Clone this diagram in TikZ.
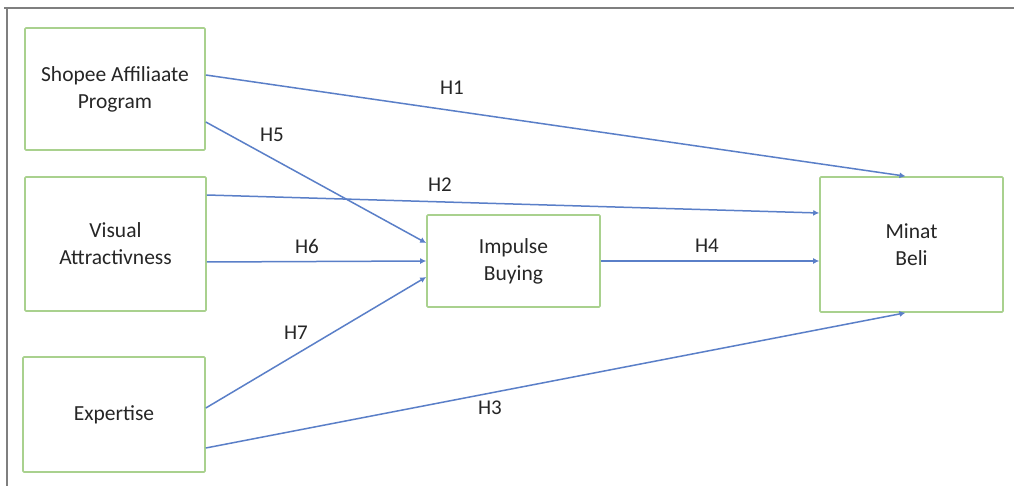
\documentclass[tikz,border=0pt]{standalone}
\usepackage{fontspec}
\setmainfont{Carlito}
\usetikzlibrary{arrows.meta}
\definecolor{boxgreen}{HTML}{A9D18E}
\definecolor{arrowblue}{HTML}{5A7FC8}
\definecolor{txt}{HTML}{262626}
\definecolor{framegray}{HTML}{7F7F7F}
\begin{document}
\begin{tikzpicture}[x=1pt,y=-1pt,
  varbox/.style={draw=boxgreen,line width=1.6pt,rounded corners=1pt,fill=white,
    minimum width=#1,align=center,text=txt,inner sep=0pt,
    font=\fontsize{21.5}{27}\selectfont},
  link/.style={draw=arrowblue,line width=1.5pt,-{Latex[length=6pt,width=6pt]}},
  hlab/.style={text=txt,font=\fontsize{21}{22}\selectfont,inner sep=0pt}]
\useasboundingbox (0,0) rectangle (1014,486);
\fill[white] (0,0) rectangle (1014,486);
% frame
\draw[framegray,line width=1.8pt] (4,8) -- (1014,8);
\draw[framegray,line width=1.8pt] (7,8) -- (7,486);
% boxes
\node[varbox=180pt,minimum height=122pt] (sap) at (115,89) {Shopee Affiliaate\\Program};
\node[varbox=181pt,minimum height=134pt] (va) at (115.5,244) {Visual\\Attractivness};
\node[varbox=182pt,minimum height=115pt] (ex) at (114,414.5) {Expertise};
\node[varbox=173pt,minimum height=92pt] (ib) at (513.5,261) {Impulse\\Buying};
\node[varbox=183pt,minimum height=135pt] (mb) at (911.5,244.5) {Minat\\Beli};
% connectors
\draw[link] ([yshift=14pt]sap.east) -- ([xshift=-6pt]mb.north);
\draw[link] ([yshift=-33pt]sap.east) -- ([yshift=18pt]ib.west);
\draw[link] ([yshift=49pt]va.east) -- ([yshift=31.5pt]mb.west);
\draw[link] ([yshift=-18pt]va.east) -- (ib.west);
\draw[link] (ib.east) -- ([yshift=-16.5pt]mb.west);
\draw[link] ([yshift=6.5pt]ex.east) -- ([yshift=-16pt]ib.west);
\draw[link] ([yshift=-33.5pt]ex.east) -- ([xshift=-6pt]mb.south);
% labels
\node[hlab] (l1) at (452,88) {H1};
\node[hlab] (l5) at (272,135) {H5};
\node[hlab] (l2) at (440,185) {H2};
\node[hlab] (l6) at (307,246) {H6};
\node[hlab] (l4) at (707,246) {H4};
\node[hlab] (l7) at (296,333) {H7};
\node[hlab] (l3) at (490,408) {H3};
\end{tikzpicture}
\end{document}
